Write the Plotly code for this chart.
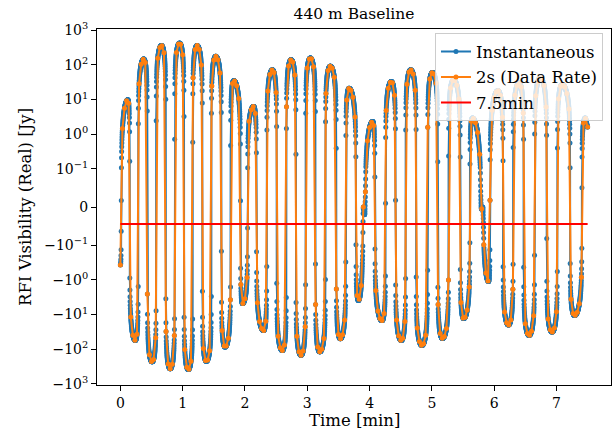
import numpy as np
import plotly.graph_objects as go

# Extrema of the instantaneous RFI visibility (time [min], value [Jy])
ext_t = [0.00, 0.12, 0.24, 0.375, 0.51, 0.66, 0.80, 0.95, 1.09, 1.23, 1.38, 1.53, 1.68,
         1.82, 1.96, 2.14, 2.30, 2.44, 2.60, 2.74, 2.90, 3.05, 3.20, 3.37, 3.53, 3.67,
         3.82, 3.90, 3.92, 4.05, 4.20, 4.35, 4.51, 4.66, 4.84, 5.01, 5.17, 5.35, 5.51,
         5.65, 5.795, 5.815, 5.91, 6.06, 6.23, 6.40, 6.56, 6.74, 6.93, 7.09, 7.29, 7.46, 7.50]
ext_v = [-0.37, 9.8, -56, 148, -234, 363, -370, 427, -390, 363, -225, 177, -87,
         35, -4.8, 6.3, -29, 72, -110, 141, -150, 158, -120, 92, -50, 21,
         -3.9, 0.0, -0.02, 2.3, -15, 33, -56, 72, -78, 60, -49, 37, -13,
         2.9, -0.005, 0.0, -1.1, 18, -20, 30, -40, 42, -32, 27, -10.6, 2.9, 1.6]

avg_7p5min = -0.044          # 7.5 min average [Jy]
inst_step_s = 0.1            # instantaneous sampling [s]
rate_step_s = 2.0            # data rate [s]
duration_min = 7.5

x_ticks = [0, 1, 2, 3, 4, 5, 6, 7]
y_tick_vals = [1000, 100, 10, 1, 0.1, 0, -0.1, -1, -10, -100, -1000]
y_tick_text = ["10<sup>3</sup>", "10<sup>2</sup>", "10<sup>1</sup>", "10<sup>0</sup>",
               "10<sup>−1</sup>", "0", "−10<sup>−1</sup>", "−10<sup>0</sup>",
               "−10<sup>1</sup>", "−10<sup>2</sup>", "−10<sup>3</sup>"]

ET = np.array(ext_t)
EV = np.array(ext_v, dtype=float)


def signal(t):
    t = np.asarray(t, float)
    i = np.clip(np.searchsorted(ET, t, side="right") - 1, 0, len(ET) - 2)
    t0, t1, v0, v1 = ET[i], ET[i + 1], EV[i], EV[i + 1]
    f = np.clip((t - t0) / (t1 - t0), 0, 1)
    return (v0 + v1) / 2 + (v0 - v1) / 2 * np.cos(np.pi * f)


LT = 0.1
LS = 1.0 / (1.0 - 1.0 / 10.0)


def symlog(y):
    y = np.asarray(y, float)
    a = np.abs(y)
    return np.where(a <= LT, y / LT * LS,
                    np.sign(y) * (LS + np.log10(np.maximum(a, LT) / LT)))


t_inst = np.arange(0, duration_min * 60 + 1e-9, inst_step_s) / 60.0
t_rate = np.arange(0, duration_min * 60 + 1e-9, rate_step_s) / 60.0
v_inst = signal(t_inst)
v_rate = signal(t_rate)

BLUE = "#1f77b4"
ORANGE = "#ff7f0e"
FONT = "DejaVu Serif"

fig = go.Figure()
fig.add_trace(go.Scatter(x=t_inst, y=symlog(v_inst), mode="lines+markers",
                         name="Instantaneous", legendgroup="a",
                         line=dict(color=BLUE, width=2),
                         marker=dict(color=BLUE, size=5),
                         customdata=v_inst, hovertemplate="%{x:.3f} min, %{customdata:.3g} Jy"))
fig.add_trace(go.Scatter(x=t_rate, y=symlog(v_rate), mode="lines+markers",
                         name="2s (Data Rate)", legendgroup="b",
                         line=dict(color=ORANGE, width=2),
                         marker=dict(color=ORANGE, size=5),
                         customdata=v_rate, hovertemplate="%{x:.3f} min, %{customdata:.3g} Jy"))
fig.add_trace(go.Scatter(x=[0, duration_min], y=symlog([avg_7p5min, avg_7p5min]),
                         mode="lines", name="7.5min", legendgroup="c",
                         line=dict(color="red", width=2)))

axis_common = dict(showline=True, mirror=True, linecolor="black", linewidth=1,
                   ticks="outside", ticklen=5, tickwidth=1, tickcolor="black",
                   showgrid=False, zeroline=False,
                   tickfont=dict(family=FONT, size=14, color="black"))

L, R, T, B = 97, 3, 29, 46

fig.update_layout(
    width=614, height=431, autosize=False,
    margin=dict(l=L, r=R, t=T, b=B),
    paper_bgcolor="white", plot_bgcolor="white",
    font=dict(family=FONT, size=14, color="black"),
    title=dict(text="440 m Baseline", x=(L + (614 - L - R) / 2) / 614, xanchor="center",
               y=1 - 14 / 431, yanchor="middle", yref="container",
               font=dict(family=FONT, size=15.5, color="black")),
    xaxis=dict(range=[-0.375, 7.875], tickvals=x_ticks, **axis_common),
    yaxis=dict(range=[-5.15, 5.15], tickvals=list(symlog(y_tick_vals)),
               ticktext=y_tick_text, **axis_common),
    legend=dict(x=0.9844, xanchor="right", y=0.988, yanchor="top",
                bgcolor="rgba(255,255,255,0.8)", bordercolor="#cccccc", borderwidth=1,
                font=dict(family=FONT, size=16.5, color="black"),
                tracegroupgap=1),
    showlegend=True,
    annotations=[
        dict(text="Time [min]", xref="paper", yref="paper", x=0.5, y=0,
             xanchor="center", yanchor="middle", yshift=-(420 - (431 - B)),
             showarrow=False, font=dict(family=FONT, size=16.5, color="black")),
        dict(text="RFI Visibility (Real) [Jy]", xref="paper", yref="paper", x=0, y=0.5,
             xanchor="center", yanchor="middle", xshift=-(L - 25), textangle=-90,
             showarrow=False, font=dict(family=FONT, size=16.5, color="black")),
    ],
)

fig.write_html("out.html")
